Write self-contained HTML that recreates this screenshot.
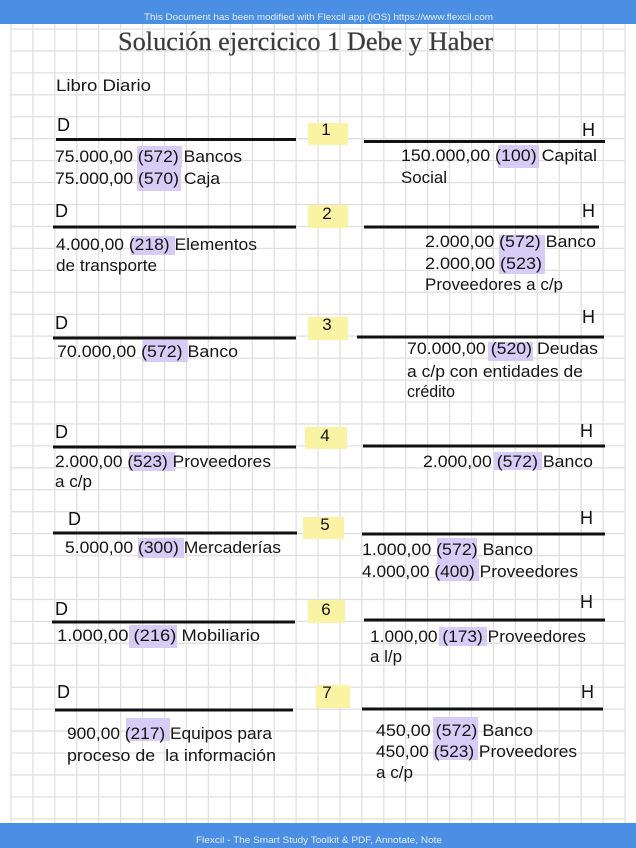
<!DOCTYPE html>
<html>
<head>
<meta charset="utf-8">
<style>
html,body{margin:0;padding:0;background:#fff;}
svg{display:block;}
.t{font-family:"Liberation Sans",sans-serif;font-size:17px;fill:#151515;}
.dh{font-family:"Liberation Sans",sans-serif;font-size:18px;fill:#111;}
.n{font-family:"Liberation Sans",sans-serif;font-size:17px;fill:#111;text-anchor:middle;}
.hl{fill:#d6ccf6;}
.yb{fill:#fbf3a4;}
.bl{stroke:#111;stroke-width:3;}
</style>
</head>
<body>
<svg width="636" height="848" viewBox="0 0 636 848" xmlns="http://www.w3.org/2000/svg">
<defs>
<clipPath id="c1"><rect x="0" y="0" width="636" height="292.5"/></clipPath>
</defs>
<rect x="0" y="0" width="636" height="848" fill="#fff"/>
<!-- grid -->
<path fill="none" stroke="#e0e0e0" stroke-width="1.3" d="
M11 24V823 M32.93 24V823 M54.86 24V823 M76.79 24V823 M98.72 24V823 M120.65 24V823 M142.58 24V823 M164.51 24V823 M186.44 24V823 M208.37 24V823 M230.3 24V823 M252.23 24V823 M274.16 24V823 M296.09 24V823 M318.02 24V823 M339.95 24V823 M361.88 24V823 M383.81 24V823 M405.74 24V823 M427.67 24V823 M449.6 24V823 M471.53 24V823 M493.46 24V823 M515.39 24V823 M537.32 24V823 M559.25 24V823 M581.18 24V823 M603.11 24V823 M625.04 24V823
M11 29H625 M11 50.94H625 M11 72.88H625 M11 94.82H625 M11 116.76H625 M11 138.7H625 M11 160.64H625 M11 182.58H625 M11 204.52H625 M11 226.46H625 M11 248.4H625 M11 270.34H625 M11 292.28H625 M11 314.22H625 M11 336.16H625 M11 358.1H625 M11 380.04H625 M11 401.98H625 M11 423.92H625 M11 445.86H625 M11 467.8H625 M11 489.74H625 M11 511.68H625 M11 533.62H625 M11 555.56H625 M11 577.5H625 M11 599.44H625 M11 621.38H625 M11 643.32H625 M11 665.26H625 M11 687.2H625 M11 709.14H625 M11 731.08H625 M11 753.02H625 M11 774.96H625 M11 796.9H625 M11 818.84H625"/>

<!-- header / footer -->
<rect x="0" y="0" width="636" height="24" fill="#4a8fe4"/>
<text x="144" y="20" font-family="Liberation Sans, sans-serif" font-size="9.5" fill="#e4edfa" textLength="349" lengthAdjust="spacingAndGlyphs">This Document has been modified with Flexcil app (iOS) https://www.flexcil.com</text>
<rect x="0" y="823" width="636" height="25" fill="#4a8fe4"/>
<text x="196" y="843" font-family="Liberation Sans, sans-serif" font-size="9.5" fill="#e4edfa" textLength="246" lengthAdjust="spacingAndGlyphs">Flexcil - The Smart Study Toolkit &amp; PDF, Annotate, Note</text>

<!-- title -->
<text x="118" y="50" font-family="Liberation Serif, serif" font-size="26" fill="#3a3a3a" stroke="#555" stroke-width="0.3" textLength="375" lengthAdjust="spacingAndGlyphs">Solución ejercicico 1 Debe y Haber</text>
<text x="56" y="91" class="t" font-size="19" textLength="95" lengthAdjust="spacingAndGlyphs">Libro Diario</text>

<!-- highlights -->
<rect class="yb" x="308" y="123" width="40" height="22"/>
<rect class="yb" x="308" y="205" width="40" height="23"/>
<rect class="yb" x="308" y="317" width="40" height="23"/>
<rect class="yb" x="305" y="427" width="42" height="22"/>
<rect class="yb" x="303" y="517" width="41" height="22"/>
<rect class="yb" x="308" y="600" width="37" height="23"/>
<rect class="yb" x="316" y="685" width="34" height="23"/>

<rect class="hl" x="137" y="146" width="45" height="21"/>
<rect class="hl" x="137" y="167" width="44" height="24"/>
<rect class="hl" x="498" y="145" width="41" height="23"/>
<rect class="hl" x="131" y="236" width="44" height="19"/>
<rect class="hl" x="499" y="235" width="46" height="18"/>
<rect class="hl" x="499" y="253" width="46" height="21"/>
<rect class="hl" x="143" y="340" width="45" height="22"/>
<rect class="hl" x="488" y="342" width="45" height="19"/>
<rect class="hl" x="129" y="452" width="46" height="19"/>
<rect class="hl" x="494" y="452" width="48" height="18"/>
<rect class="hl" x="138" y="538" width="46" height="20"/>
<rect class="hl" x="437" y="538" width="40" height="21"/>
<rect class="hl" x="437" y="559" width="42" height="22"/>
<rect class="hl" x="129" y="625" width="48" height="23"/>
<rect class="hl" x="439" y="627" width="48" height="19"/>
<rect class="hl" x="126" y="718" width="44" height="23"/>
<rect class="hl" x="433" y="717" width="45" height="21"/>
<rect class="hl" x="433" y="738" width="45" height="22"/>

<!-- black rules -->
<line class="bl" x1="56" y1="139.5" x2="296" y2="139.5"/>
<line class="bl" x1="364" y1="141.5" x2="605" y2="141.5"/>
<line class="bl" x1="53" y1="227" x2="296" y2="227"/>
<line class="bl" x1="364" y1="227" x2="599" y2="227"/>
<line class="bl" x1="53" y1="338" x2="296" y2="338"/>
<line class="bl" x1="357" y1="337" x2="604" y2="337"/>
<line class="bl" x1="53" y1="447" x2="296" y2="447"/>
<line class="bl" x1="363" y1="446" x2="605" y2="446"/>
<line class="bl" x1="53" y1="533" x2="297" y2="533"/>
<line class="bl" x1="362" y1="534" x2="605" y2="534"/>
<line class="bl" x1="52" y1="622" x2="295" y2="622"/>
<line class="bl" x1="364" y1="620" x2="605" y2="620"/>
<line class="bl" x1="55" y1="710" x2="293" y2="710"/>
<line class="bl" x1="362" y1="709" x2="603" y2="709"/>

<!-- D / H / numbers -->
<text class="dh" x="57" y="131">D</text>
<text class="dh" x="582" y="136">H</text>
<text class="n" x="326" y="135">1</text>

<text class="dh" x="55" y="217">D</text>
<text class="dh" x="582" y="217">H</text>
<text class="n" x="327" y="219">2</text>

<text class="dh" x="55" y="329">D</text>
<text class="dh" x="582" y="323">H</text>
<text class="n" x="327" y="330">3</text>

<text class="dh" x="55" y="438">D</text>
<text class="dh" x="580" y="437">H</text>
<text class="n" x="325" y="441">4</text>

<text class="dh" x="68" y="525">D</text>
<text class="dh" x="580" y="524">H</text>
<text class="n" x="325" y="530">5</text>

<text class="dh" x="55" y="615">D</text>
<text class="dh" x="580" y="608">H</text>
<text class="n" x="326" y="615">6</text>

<text class="dh" x="57" y="698">D</text>
<text class="dh" x="581" y="698">H</text>
<text class="n" x="327" y="698">7</text>

<!-- entries -->
<text class="t" x="55" y="162" textLength="187" lengthAdjust="spacingAndGlyphs">75.000,00 (572) Bancos</text>
<text class="t" x="55" y="184" textLength="165" lengthAdjust="spacingAndGlyphs">75.000,00 (570) Caja</text>
<text class="t" x="401" y="161" textLength="196" lengthAdjust="spacingAndGlyphs">150.000,00 (100) Capital</text>
<text class="t" x="401" y="183" textLength="46" lengthAdjust="spacingAndGlyphs">Social</text>

<text class="t" x="56" y="250" textLength="201" lengthAdjust="spacingAndGlyphs">4.000,00 (218) Elementos</text>
<text class="t" x="56" y="271" textLength="101" lengthAdjust="spacingAndGlyphs">de transporte</text>
<text class="t" x="425" y="247" textLength="171" lengthAdjust="spacingAndGlyphs">2.000,00 (572) Banco</text>
<text class="t" x="425" y="269" textLength="117" lengthAdjust="spacingAndGlyphs">2.000,00 (523)</text>
<text class="t" x="425" y="290" textLength="138" lengthAdjust="spacingAndGlyphs" clip-path="url(#c1)">Proveedores a c/p</text>

<text class="t" x="57" y="357" textLength="181" lengthAdjust="spacingAndGlyphs">70.000,00 (572) Banco</text>
<text class="t" x="407" y="354" textLength="191" lengthAdjust="spacingAndGlyphs">70.000,00 (520) Deudas</text>
<text class="t" x="407" y="377" textLength="176" lengthAdjust="spacingAndGlyphs">a c/p con entidades de</text>
<text class="t" x="407" y="397" textLength="48" lengthAdjust="spacingAndGlyphs">crédito</text>

<text class="t" x="55" y="467" textLength="216" lengthAdjust="spacingAndGlyphs">2.000,00 (523) Proveedores</text>
<text class="t" x="55" y="487" textLength="37" lengthAdjust="spacingAndGlyphs">a c/p</text>
<text class="t" x="423" y="467" textLength="170" lengthAdjust="spacingAndGlyphs">2.000,00 (572) Banco</text>

<text class="t" x="65" y="553" textLength="216" lengthAdjust="spacingAndGlyphs">5.000,00 (300) Mercaderías</text>
<text class="t" x="362" y="555" textLength="171" lengthAdjust="spacingAndGlyphs">1.000,00 (572) Banco</text>
<text class="t" x="362" y="577" textLength="216" lengthAdjust="spacingAndGlyphs">4.000,00 (400) Proveedores</text>

<text class="t" x="57" y="641" textLength="203" lengthAdjust="spacingAndGlyphs">1.000,00 (216) Mobiliario</text>
<text class="t" x="370" y="642" textLength="216" lengthAdjust="spacingAndGlyphs">1.000,00 (173) Proveedores</text>
<text class="t" x="370" y="662" textLength="32" lengthAdjust="spacingAndGlyphs">a l/p</text>

<text class="t" x="67" y="739" textLength="205" lengthAdjust="spacingAndGlyphs">900,00 (217) Equipos para</text>
<text class="t" x="67" y="761" textLength="209" lengthAdjust="spacingAndGlyphs" xml:space="preserve">proceso de  la información</text>
<text class="t" x="376" y="736" textLength="157" lengthAdjust="spacingAndGlyphs">450,00 (572) Banco</text>
<text class="t" x="376" y="757" textLength="201" lengthAdjust="spacingAndGlyphs">450,00 (523) Proveedores</text>
<text class="t" x="376" y="778" textLength="37" lengthAdjust="spacingAndGlyphs">a c/p</text>
</svg>
</body>
</html>
